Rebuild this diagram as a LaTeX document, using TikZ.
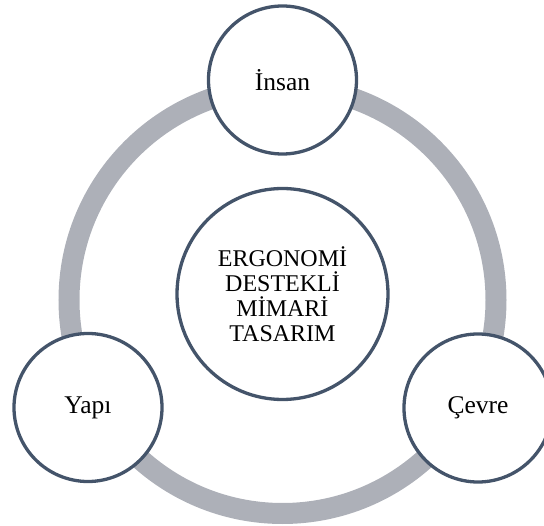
\documentclass[tikz,border=0pt]{standalone}
\usepackage{fontspec}
\setmainfont{Liberation Serif}
\usepackage{tikz}
\usetikzlibrary{positioning}
\definecolor{slate}{HTML}{44546A}
\definecolor{ringgray}{HTML}{ADB0B8}

\begin{document}
\begin{tikzpicture}[x=1pt,y=-1pt,
  every node/.style={font=\fontsize{25.5}{27}\selectfont},
  part/.style={circle,draw=slate,line width=3.3pt,fill=white,minimum size=148pt,inner sep=0pt}]
\useasboundingbox (0,0) rectangle (544,526);
\coordinate (hub) at (282.5,300);
\draw[ringgray,line width=21pt] (hub) circle[radius=213.5];
\node[part,minimum size=211pt,font=\fontsize{24}{25}\selectfont,align=center] (core) at (282.5,294) {ERGONOMİ\\DESTEKLİ\\MİMARİ\\TASARIM};
\node[part] (insan) at (282.5,80) {İnsan};
\node[part] (yapi) at (88,407.5) {Yapı};
\node[part] (cevre) at (478,408) {Çevre};
\end{tikzpicture}
\end{document}
